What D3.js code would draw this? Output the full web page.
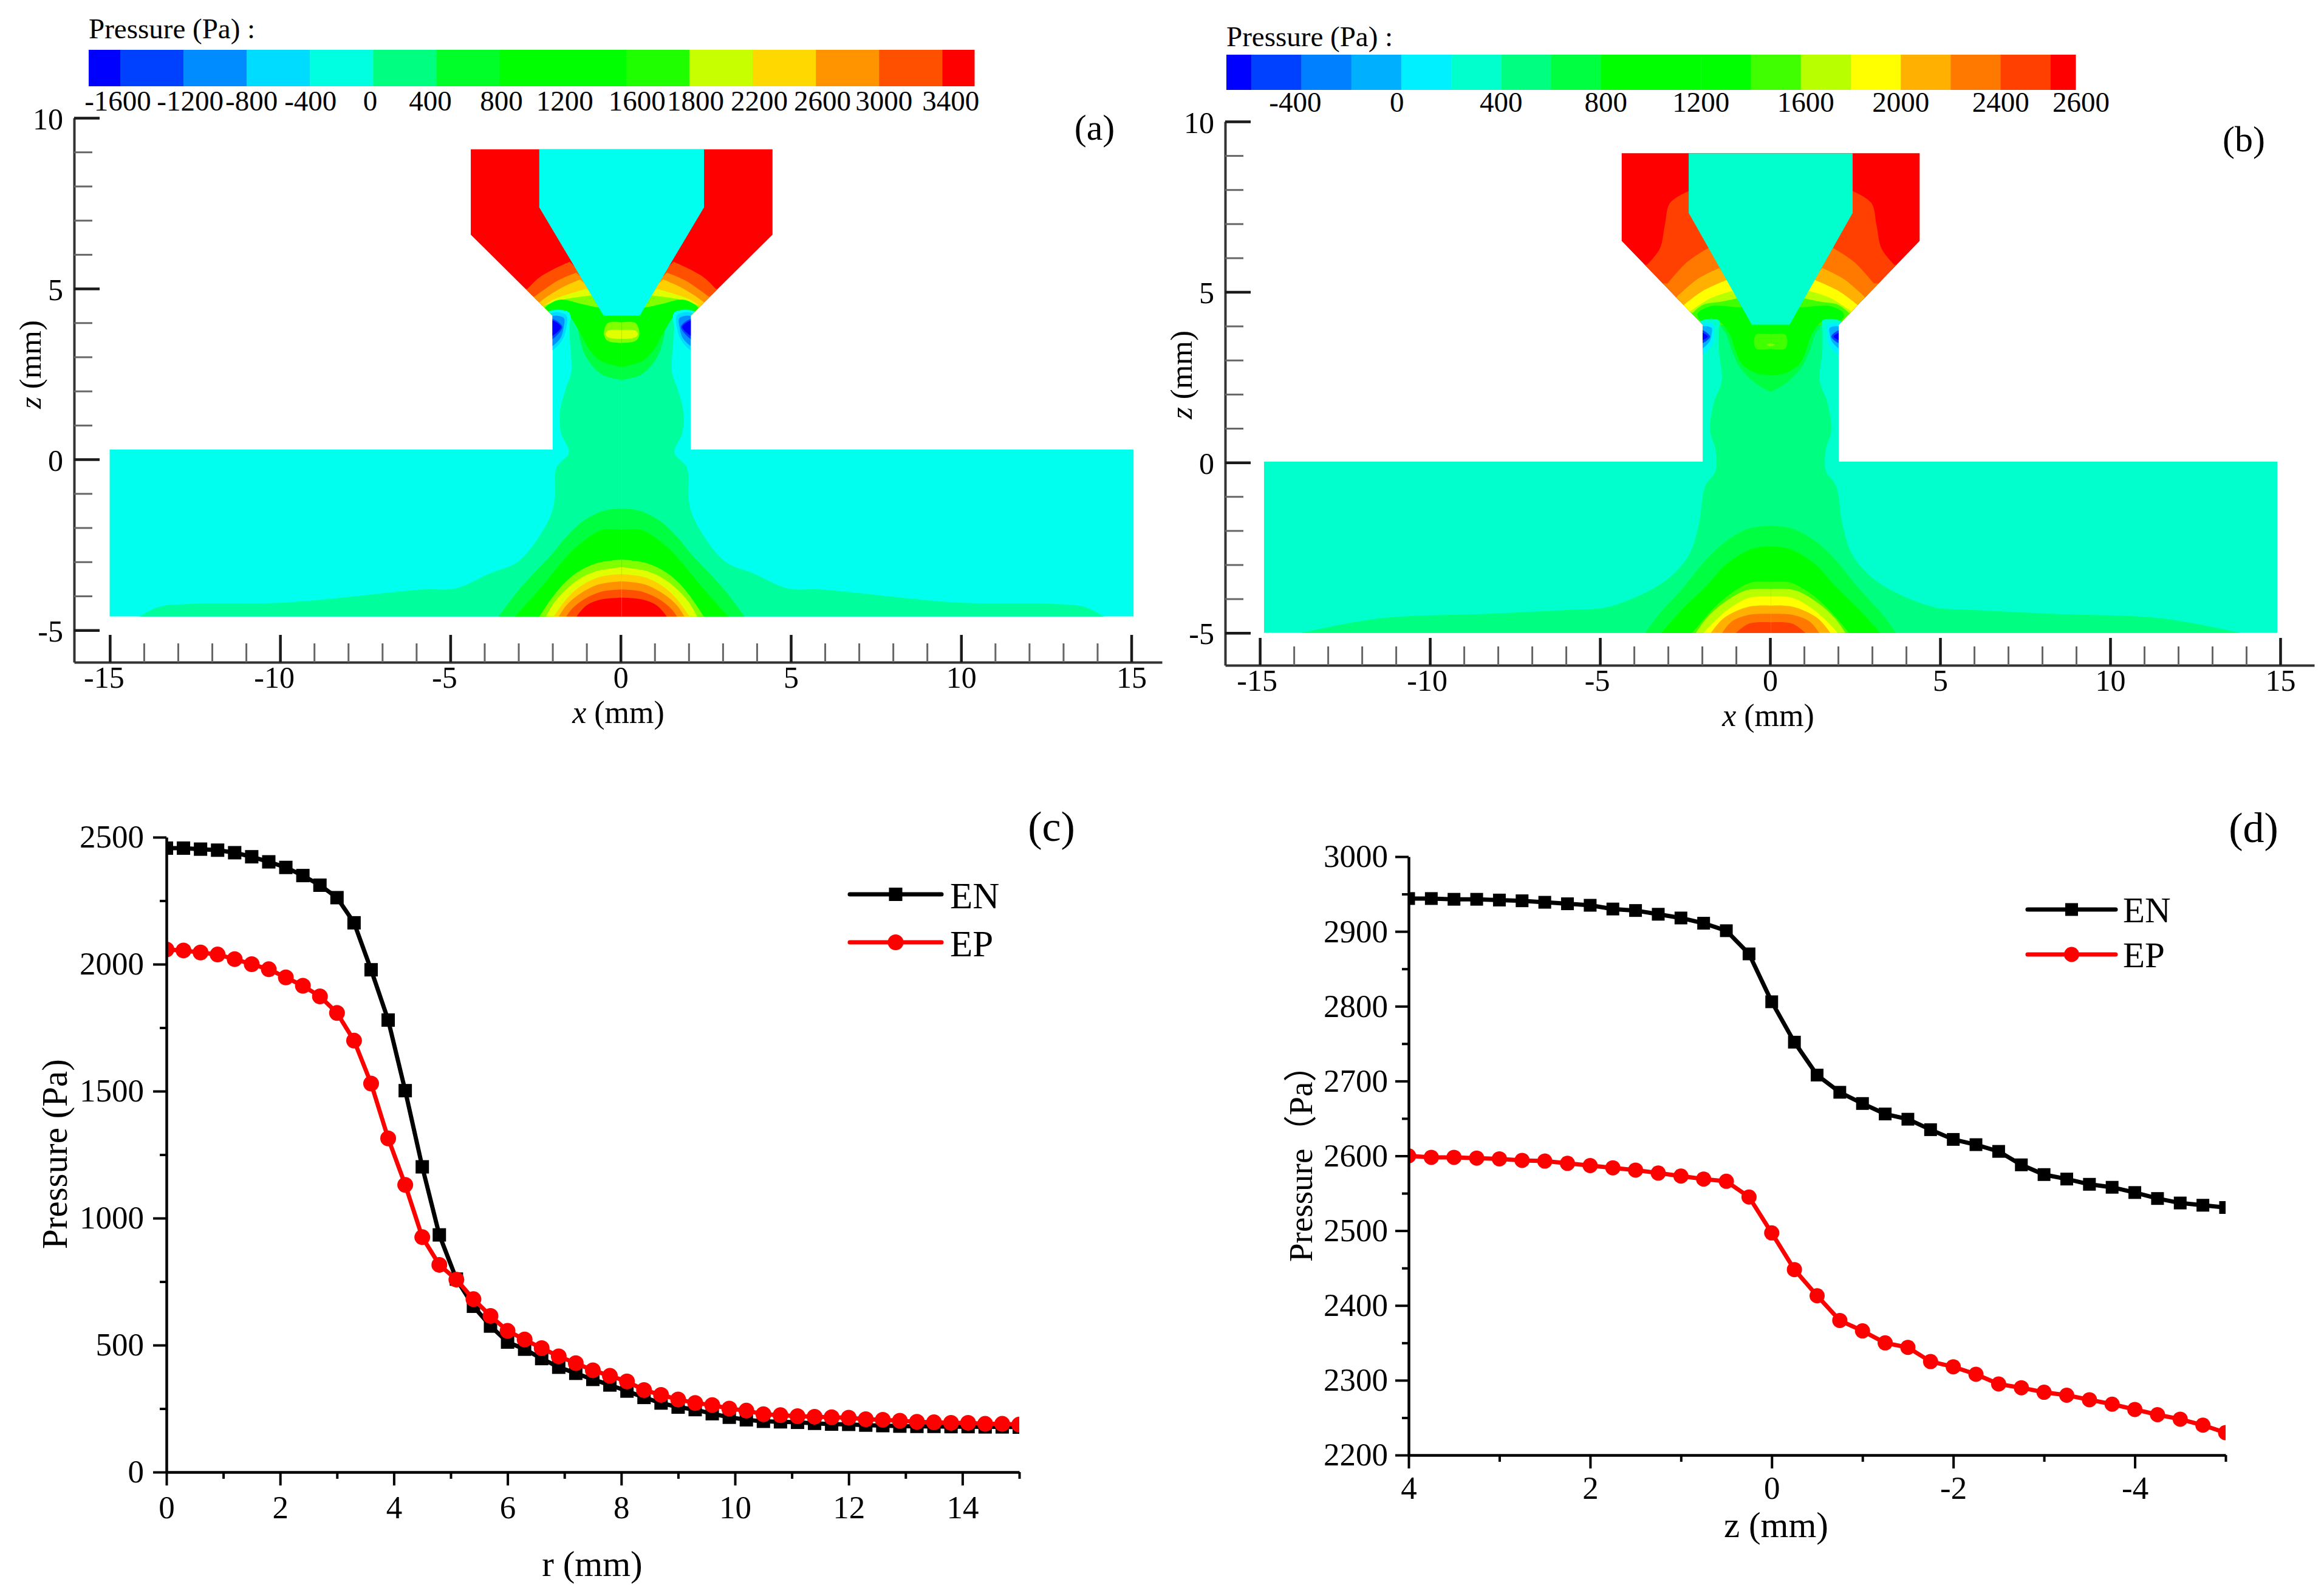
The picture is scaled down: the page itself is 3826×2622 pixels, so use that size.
<!DOCTYPE html>
<html>
<head>
<meta charset="utf-8">
<script src="https://cdn.jsdelivr.net/npm/d3@7"></script>
<style>
  body { margin: 0; background: #fff; }
  text { font-family: "Liberation Serif", "Noto Sans CJK SC", serif; fill: #000; }
</style>
</head>
<body>
<div id="chart-area"></div>
<script>
// ---------- line chart data ----------
var rValues = d3.range(0, 51).map(function (i) { return i * 0.3; });
var enRadial = [2457, 2457, 2453, 2449, 2439, 2423, 2403, 2381, 2349, 2311, 2262, 2163, 1978, 1780, 1502, 1202, 934,
    760, 653, 575, 512, 484, 447, 413, 389, 365, 343, 319, 294, 272, 256, 246, 230, 216, 206, 200, 198, 196, 192,
    189, 188, 185, 183, 181, 180, 180, 179, 179, 178, 178, 177];
var epRadial = [2058, 2054, 2046, 2038, 2020, 2000, 1980, 1948, 1915, 1873, 1808, 1699, 1530, 1314, 1131, 925, 816,
    758, 681, 615, 556, 522, 488, 456, 429, 401, 379, 357, 323, 304, 286, 272, 264, 250, 242, 228, 224, 220, 218,
    216, 214, 208, 206, 202, 198, 196, 194, 194, 190, 190, 187];

var zValues = d3.range(0, 37).map(function (i) { return 4 - i * 0.25; });
var enAxial = [2944, 2944, 2943, 2943, 2942, 2941, 2939, 2937, 2935, 2930, 2928, 2923, 2918, 2911, 2901, 2870, 2806,
    2752, 2708, 2685, 2670, 2656, 2649, 2635, 2622, 2615, 2606, 2588, 2575, 2569, 2562, 2558, 2551, 2543, 2537, 2534, 2531];
var epAxial = [2600, 2598, 2598, 2597, 2596, 2594, 2593, 2590, 2587, 2584, 2581, 2577, 2573, 2569, 2566, 2545, 2497,
    2448, 2413, 2380, 2366, 2350, 2344, 2325, 2318, 2308, 2295, 2290, 2284, 2280, 2274, 2268, 2261, 2254, 2248, 2240, 2230];

// ---------- colour bars ----------
var levelsA = [-1800, -1600, -1200, -800, -400, 0, 400, 800, 1200, 1600, 1800, 2200, 2600, 3000, 3400, 3600];
var colorsA = ["#0000ff", "#0040ff", "#008cff", "#00dcff", "#00ffe0", "#00ff80", "#00ff28", "#00ff00", "#00ff00",
    "#20ff00", "#c8ff00", "#ffd800", "#ff9400", "#ff5000", "#ff0000"];
var labelsA = [-1600, -1200, -800, -400, 0, 400, 800, 1200, 1600, 1800, 2200, 2600, 3000, 3400];

var levelsB = [-700, -600, -400, -200, 0, 200, 400, 600, 800, 1000, 1200, 1400, 1600, 1800, 2000, 2200, 2400, 2600, 2700];
var colorsB = ["#0000ff", "#0040ff", "#0080ff", "#00b0ff", "#00f0ff", "#00ffcc", "#00ff80", "#00ff40", "#00ff00",
    "#00ff00", "#00ff00", "#40ff00", "#b8ff00", "#ffff00", "#ffb000", "#ff7800", "#ff4000", "#ff0000"];
var labelsB = [-400, 0, 400, 800, 1200, 1600, 2000, 2400, 2600];

// ---------- contour outlines, right half, [x mm, z mm] ----------
var outlineA = [[0, 9.08], [4.43, 9.08], [4.43, 6.58], [2.03, 4.21], [2.03, 0.29], [15.04, 0.29], [15.04, -4.6], [0, -4.6]];
var nozzleA = [[0, 9.08], [2.42, 9.08], [2.42, 7.38], [0.53, 4.21], [0, 4.21]];
var coreA = [[1.55, 4.33], [1.52, 3.5], [1.48, 2.55], [1.63, 2.1], [1.81, 1.4], [1.78, 0.77], [1.55, 0.2], [1.92, -0.25],
    [1.96, -1.08], [2.07, -1.61], [2.59, -2.5], [3.11, -3.04], [3.85, -3.33], [4.88, -3.78], [5.83, -3.81], [9.84, -4.19],
    [12.67, -4.23], [13.6, -4.32], [14.19, -4.62]];
var bowl40A = [[0, 4.3], [1.52, 4.26], [1.33, 4.01], [1.22, 3.5], [1.04, 2.99], [0.59, 2.49], [0, 2.33]];
var wallRedA = [[0, 10], [6, 10]];
var wall50A = [[1.52, 5.79], [2, 5.57], [2.44, 5.31], [2.77, 4.99]];
var wall90A = [[1.33, 5.47], [1.85, 5.25], [2.29, 4.96], [2.55, 4.77]];
var wallD0A = [[1.22, 5.27], [1.7, 5.06], [2.14, 4.8], [2.4, 4.61]];
var wallE0A = [[1.04, 4.99], [1.55, 4.84], [2, 4.68], [2.29, 4.49]];
var wall80A = [[0.89, 4.8], [1.55, 4.71], [2, 4.61], [2.37, 4.45]];
var bowlGreenA = [[0, 4.45], [0.7, 4.45], [1.18, 4.55], [1.78, 4.68], [2.07, 4.58], [2.26, 4.42], [2.18, 4.3], [1.63, 4.31],
    [1.44, 4.07], [1.18, 3.63], [0.92, 3.18], [0.59, 2.87], [0, 2.71]];
var spot80A = [[0, 4.01], [0.41, 3.99], [0.52, 3.66], [0.41, 3.47], [0, 3.41]];
var spotE0A = [[0, 3.79], [0.41, 3.77], [0.48, 3.66], [0.37, 3.56], [0, 3.53]];
var pocketCyanA = [[1.55, 4.31], [2.18, 4.31], [2.1, 3.9], [1.55, 3.95]];
var pocketDcA = [[1.63, 4.23], [2.1, 4.26], [2.1, 3.18], [1.78, 3.44], [1.63, 3.82]];
var pocket90A = [[1.7, 4.14], [2.1, 4.17], [2.1, 3.31], [1.81, 3.53], [1.7, 3.88]];
var pocket40A = [[2.1, 4.12], [1.74, 3.88], [2.1, 3.5]];
var pocket00A = [[2.1, 4.07], [1.78, 3.88], [2.1, 3.6]];
var dome40A = [[0, -1.44], [0.52, -1.5], [1.11, -1.79], [1.63, -2.27], [2.07, -2.8], [2.96, -3.75], [3.62, -4.61]];
var dome00A = [[0, -2.06], [0.59, -2.07], [1.26, -2.5], [1.63, -2.86], [2.37, -3.75], [3.14, -4.61]];
var dome80A = [[0, -2.93], [0.74, -3.04], [1.26, -3.28], [1.63, -3.57], [2, -3.99], [2.42, -4.61]];
var domeE0A = [[0, -3.16], [0.74, -3.27], [1.26, -3.51], [1.7, -3.87], [2, -4.22], [2.22, -4.61]];
var domeD0A = [[0, -3.36], [0.67, -3.45], [1.26, -3.75], [1.63, -4.1], [2, -4.61]];
var dome90A = [[0, -3.57], [0.67, -3.66], [1.26, -3.96], [1.63, -4.28], [1.85, -4.61]];
var dome50A = [[0, -3.81], [0.59, -3.87], [1.11, -4.1], [1.48, -4.4], [1.63, -4.61]];
var domeRedA = [[0, -4.05], [0.59, -4.1], [1.04, -4.28], [1.33, -4.61]];

var outlineB = [[0, 9.07], [4.38, 9.07], [4.38, 6.5], [2, 4.04], [2, 0.03], [14.9, 0.03], [14.9, -5], [0, -5]];
var nozzleB = [[0, 9.07], [2.41, 9.07], [2.41, 7.32], [0.555, 4.04], [0, 4.04]];
var coreB = [[1.52, 4.04], [1.52, 3.28], [1.44, 2.39], [1.67, 1.75], [1.78, 0.93], [1.63, 0.42], [1.59, 0.03], [1.63, -0.28],
    [1.92, -0.69], [2.1, -1.76], [2.32, -2.54], [2.61, -3.01], [3.12, -3.49], [3.85, -3.9], [4.87, -4.26], [5.8, -4.32],
    [8.28, -4.44], [11.55, -4.58], [13.9, -5.02]];
var bowl40B = [[0, 4.2], [1.45, 4.04], [1.3, 3.75], [1.15, 3.3], [0.89, 2.77], [0.44, 2.32], [0, 2.07]];
var wallRedB = [[0, 10], [6, 10]];
var wall40B = [[2.41, 7.96], [2.96, 7.61], [3.11, 6.97], [3.26, 6.27], [3.63, 5.8]];
var wall78B = [[1.81, 6.3], [2.44, 5.89], [3.03, 5.25]];
var wallB0B = [[1.52, 5.7], [2.15, 5.38], [2.78, 4.84]];
var wallFfB = [[1.3, 5.35], [2, 5.03], [2.55, 4.62]];
var wallB8B = [[1.15, 5.03], [1.78, 4.81], [2.37, 4.43]];
var wallLimeB = [[1, 4.81], [1.48, 4.71], [2, 4.62], [2.29, 4.39]];
var bowlGreenB = [[0, 4.6], [0.89, 4.55], [1.26, 4.58], [1.78, 4.58], [2.15, 4.36], [2.07, 4.17], [1.78, 4.2], [1.48, 4.11],
    [1.2, 3.75], [1.04, 3.3], [0.85, 2.9], [0.44, 2.62], [0, 2.55]];
var spotLimeB = [[0, 3.76], [0.44, 3.74], [0.44, 3.35], [0, 3.33]];
var spot80B = [[0, 3.5], [0.12, 3.45], [0, 3.4]];
var pocketCyanB = [[1.52, 4.17], [2.07, 4.14], [2.1, 3.8], [1.55, 3.9]];
var pocketF0B = [[1.67, 4.04], [2.1, 4.04], [2.1, 3.12], [1.7, 3.47], [1.67, 3.79]];
var pocketB0B = [[1.74, 3.95], [2.1, 3.96], [2.1, 3.31], [1.81, 3.53], [1.74, 3.76]];
var pocket40B = [[2.1, 3.9], [1.78, 3.69], [2.1, 3.47]];
var pocket00B = [[2.1, 3.82], [1.85, 3.69], [2.1, 3.57]];
var dome40B = [[0, -1.85], [0.64, -1.94], [1.3, -2.3], [1.88, -2.83], [2.61, -3.72], [3.27, -4.44], [3.7, -5.02]];
var dome00B = [[0, -2.46], [0.57, -2.54], [1.3, -2.98], [1.88, -3.61], [2.61, -4.32], [3.23, -5.02]];
var domeLimeB = [[0, -3.5], [0.57, -3.52], [1.08, -3.78], [1.66, -4.26], [2.32, -5.02]];
var domeB8B = [[0, -3.71], [0.71, -3.75], [1.37, -4.11], [1.88, -4.56], [2.21, -5.02]];
var domeFfB = [[0, -3.93], [0.64, -3.97], [1.22, -4.29], [1.66, -4.67], [1.99, -5.02]];
var domeB0B = [[0, -4.2], [0.64, -4.23], [1.37, -4.56], [1.77, -5.02]];
var dome78B = [[0, -4.44], [0.64, -4.47], [1.15, -4.67], [1.44, -5.02]];
var dome40rB = [[0, -4.69], [0.64, -4.73], [1.04, -5.02]];

var width = 3826, height = 2622;
var svg = d3.select("#chart-area").append("svg")
    .attr("width", width)
    .attr("height", height)
    .style("display", "block");

// ====================
// contour panels
function drawContour(cfg) {
    var x = d3.scaleLinear().domain(cfg.xDomain).range(cfg.xRange);
    var z = d3.scaleLinear().domain(cfg.zDomain).range(cfg.zRange);
    var g = svg.append("g");

    // colour bar
    var bar = d3.scaleLinear().domain(cfg.levels).range(cfg.barRange);
    g.selectAll(".band").data(cfg.colors).enter().append("rect")
        .attr("x", function (d, i) { return bar(cfg.levels[i]); })
        .attr("y", cfg.barTop)
        .attr("width", function (d, i) { return bar(cfg.levels[i + 1]) - bar(cfg.levels[i]) + 0.5; })
        .attr("height", cfg.barHeight)
        .attr("fill", function (d) { return d; });
    g.selectAll(".barLabel").data(cfg.labels).enter().append("text")
        .attr("x", function (d) { return bar(d) + (cfg.labelShift[d] || 0); })
        .attr("y", cfg.barLabelY)
        .attr("text-anchor", "middle")
        .attr("font-size", 47)
        .text(function (d) { return String(d); });
    g.append("text").attr("x", cfg.barRange[0]).attr("y", cfg.titleY)
        .attr("font-size", 47).text("Pressure (Pa) :");

    // field, clipped to the flow domain
    var field = g.append("g").attr("transform", "translate(" + cfg.fieldShift + ",0)");
    var straight = d3.line().x(function (d) { return x(d[0]); }).y(function (d) { return z(d[1]); });
    var mirrored = cfg.outline.concat(cfg.outline.map(function (d) { return [-d[0], d[1]]; }).reverse());
    var clipId = "clip-" + cfg.name;
    g.append("clipPath").attr("id", clipId).append("path").attr("d", straight(mirrored) + "Z");
    var inner = field.append("g").attr("clip-path", "url(#" + clipId + ")");
    inner.append("path").attr("d", straight(mirrored) + "Z").attr("fill", cfg.base);

    [1, -1].forEach(function (sign) {
        var curve = d3.line()
            .x(function (d) { return x(sign * d[0]); })
            .y(function (d) { return z(d[1]); })
            .curve(d3.curveCatmullRom);
        var loop = d3.line()
            .x(function (d) { return x(sign * d[0]); })
            .y(function (d) { return z(d[1]); })
            .curve(d3.curveCatmullRomClosed);
        var at = function (px, pz) { return "L" + x(sign * px) + "," + z(pz); };
        cfg.shapes.forEach(function (s) {
            var pts = s[2], last = pts[pts.length - 1], d;
            if (s[0] == "wall") {
                d = curve(pts) + at(7, last[1]) + at(7, cfg.floor) + at(0, cfg.floor) + "Z";
            } else if (s[0] == "down") {
                d = curve(pts) + at(last[0], -6) + at(0, -6) + at(0, pts[0][1]) + "Z";
            } else if (s[0] == "bowl") {
                d = curve(pts) + "Z";
            } else {
                d = loop(pts);
            }
            inner.append("path").attr("d", d).attr("fill", s[1]);
        });
    });
    var nozzle = cfg.nozzle.concat(cfg.nozzle.map(function (d) { return [-d[0], d[1]]; }).reverse());
    inner.append("path").attr("d", straight(nozzle) + "Z").attr("fill", cfg.base);

    // axes: ticks point into the plot, labels stay outside
    function styleAxis(sel, w) {
        sel.attr("font-family", null).selectAll("line").attr("stroke", "#1a1a1a").attr("stroke-width", w);
    }
    var yMajor = g.append("g").attr("transform", "translate(" + cfg.xRange[0] + ",0)")
        .call(d3.axisRight(z).tickValues([-5, 0, 5, 10]).tickSize(42).tickSizeOuter(0).tickFormat(String));
    var yMinor = g.append("g").attr("transform", "translate(" + cfg.xRange[0] + ",0)")
        .call(d3.axisRight(z).tickValues(d3.range(-4, 10).filter(function (d) { return d % 5 != 0; })).tickSize(30).tickFormat(""));
    var xMajor = g.append("g").attr("transform", "translate(0," + cfg.zRange[0] + ")")
        .call(d3.axisTop(x).tickValues([-15, -10, -5, 0, 5, 10, 15]).tickSize(45).tickSizeOuter(0).tickFormat(String));
    var xMinor = g.append("g").attr("transform", "translate(0," + cfg.zRange[0] + ")")
        .call(d3.axisTop(x).tickValues(d3.range(-14, 15).filter(function (d) { return d % 5 != 0; })).tickSize(31).tickFormat(""));
    [yMinor, xMinor].forEach(function (a) {
        a.select(".domain").remove();
        styleAxis(a, 3);
        a.selectAll("line").attr("stroke", "#666");
    });
    [yMajor, xMajor].forEach(function (a) {
        styleAxis(a, 4.5);
        a.select(".domain").attr("stroke", "#333").attr("stroke-width", 4);
    });
    yMajor.selectAll("text").attr("x", -18).attr("dy", "0.36em").attr("text-anchor", "end").attr("font-size", 50);
    xMajor.selectAll("text").attr("y", 42)
        .attr("x", function (d) { return d < 0 ? -cfg.negTickShift : 0; })
        .attr("dy", 0).attr("font-size", 50);

    // labels
    var zLab = g.append("text")
        .attr("transform", "translate(" + cfg.zLabelX + "," + cfg.zLabelY + ") rotate(-90)")
        .attr("text-anchor", "middle").attr("font-size", 51);
    zLab.append("tspan").attr("font-style", "italic").text("z");
    zLab.append("tspan").text(" (mm)");
    var xLab = g.append("text").attr("x", cfg.xLabelX).attr("y", cfg.xLabelY)
        .attr("text-anchor", "middle").attr("font-size", 52);
    xLab.append("tspan").attr("font-style", "italic").text("x");
    xLab.append("tspan").text(" (mm)");
    g.append("text").attr("x", cfg.tagX).attr("y", cfg.tagY)
        .attr("text-anchor", "middle").attr("font-size", 60).text(cfg.tag);
}

drawContour({
    name: "a", tag: "(a)", tagX: 1802, tagY: 230,
    xDomain: [-16.05, 15.9], xRange: [122, 1913],
    zDomain: [-5.94, 10], zRange: [1090, 194],
    fieldShift: 1.7, floor: 4.2, negTickShift: 10,
    levels: levelsA, colors: colorsA, labels: labelsA,
    barRange: levelsA.map(function (d, i) { return i == 0 ? 146 : (i == levelsA.length - 1 ? 1604 : 198 + (i - 1) * 104.1); }),
    barTop: 82, barHeight: 60, barLabelY: 182, titleY: 63,
    labelShift: { "-1600": -4, "-1200": 11, "-800": 8, "-400": 1, "0": -5, "400": -10, "800": 3, "1200": 3, "1600": 18, "1800": 10, "2200": 11, "2600": 11, "3000": 8, "3400": 14 },
    outline: outlineA, nozzle: nozzleA, base: "#00ffee",
    shapes: [
        ["down", "#00ff9c", coreA],
        ["bowl", "#00ff40", bowl40A],
        ["wall", "#ff0000", wallRedA],
        ["wall", "#ff5000", wall50A],
        ["wall", "#ff9000", wall90A],
        ["wall", "#ffd000", wallD0A],
        ["wall", "#e0ff00", wallE0A],
        ["wall", "#80ff00", wall80A],
        ["bowl", "#00ff00", bowlGreenA],
        ["bowl", "#80ff00", spot80A],
        ["bowl", "#e0ff00", spotE0A],
        ["loop", "#00ffee", pocketCyanA],
        ["loop", "#00dcff", pocketDcA],
        ["loop", "#0090ff", pocket90A],
        ["loop", "#0040ff", pocket40A],
        ["loop", "#0000ff", pocket00A],
        ["down", "#00ff40", dome40A],
        ["down", "#00ff00", dome00A],
        ["down", "#80ff00", dome80A],
        ["down", "#e0ff00", domeE0A],
        ["down", "#ffd000", domeD0A],
        ["down", "#ff9000", dome90A],
        ["down", "#ff5000", dome50A],
        ["down", "#ff0000", domeRedA]
    ],
    zLabelX: 67, zLabelY: 600, xLabelX: 1018, xLabelY: 1190
});

drawContour({
    name: "b", tag: "(b)", tagX: 3694, tagY: 249,
    xDomain: [-16.02, 16.0], xRange: [2017, 3810],
    zDomain: [-5.95, 10], zRange: [1095, 200],
    fieldShift: 1, floor: 4.03, negTickShift: 5,
    levels: levelsB, colors: colorsB, labels: labelsB,
    barRange: levelsB.map(function (d) { return 2019 + (d + 700) / 3400 * 1398; }),
    barTop: 90, barHeight: 58, barLabelY: 184, titleY: 76,
    labelShift: { "-400": -10, "0": -7, "800": 8, "1600": 8, "2600": 50 },
    outline: outlineB, nozzle: nozzleB, base: "#00ffcc",
    shapes: [
        ["down", "#00ff80", coreB],
        ["bowl", "#00ff40", bowl40B],
        ["wall", "#ff0000", wallRedB],
        ["wall", "#ff4000", wall40B],
        ["wall", "#ff7800", wall78B],
        ["wall", "#ffb000", wallB0B],
        ["wall", "#ffff00", wallFfB],
        ["wall", "#b8ff00", wallB8B],
        ["wall", "#40ff00", wallLimeB],
        ["bowl", "#00ff00", bowlGreenB],
        ["bowl", "#40ff00", spotLimeB],
        ["bowl", "#80ff00", spot80B],
        ["loop", "#00ffcc", pocketCyanB],
        ["loop", "#00f0ff", pocketF0B],
        ["loop", "#00b0ff", pocketB0B],
        ["loop", "#0040ff", pocket40B],
        ["loop", "#0000ff", pocket00B],
        ["down", "#00ff40", dome40B],
        ["down", "#00ff00", dome00B],
        ["down", "#40ff00", domeLimeB],
        ["down", "#b8ff00", domeB8B],
        ["down", "#ffff00", domeFfB],
        ["down", "#ffb000", domeB0B],
        ["down", "#ff7800", dome78B],
        ["down", "#ff4000", dome40rB]
    ],
    zLabelX: 1962, zLabelY: 617, xLabelX: 2911, xLabelY: 1195
});

// ====================
// line panels
function drawLines(cfg) {
    var x = d3.scaleLinear().domain(cfg.xDomain).range(cfg.xRange);
    var y = d3.scaleLinear().domain(cfg.yDomain).range(cfg.yRange);
    var g = svg.append("g");
    var clipId = "clip-" + cfg.name;
    g.append("clipPath").attr("id", clipId).append("rect")
        .attr("x", cfg.xRange[0]).attr("y", cfg.yRange[1] - 20)
        .attr("width", cfg.xRange[1] - cfg.xRange[0]).attr("height", cfg.yRange[0] - cfg.yRange[1] + 40);

    var plot = g.append("g").attr("clip-path", "url(#" + clipId + ")");
    var line = d3.line().x(function (d) { return x(d[0]); }).y(function (d) { return y(d[1]); });
    var en = d3.zip(cfg.xs, cfg.en), ep = d3.zip(cfg.xs, cfg.ep);

    plot.append("path").attr("d", line(en)).attr("fill", "none").attr("stroke", "#000").attr("stroke-width", 7);
    plot.selectAll(".en").data(en).enter().append("rect")
        .attr("x", function (d) { return x(d[0]) - cfg.square / 2; })
        .attr("y", function (d) { return y(d[1]) - cfg.square / 2; })
        .attr("width", cfg.square).attr("height", cfg.square).attr("fill", "#000");
    plot.append("path").attr("d", line(ep)).attr("fill", "none").attr("stroke", "#ff0000").attr("stroke-width", 7);
    plot.selectAll(".ep").data(ep).enter().append("circle")
        .attr("cx", function (d) { return x(d[0]); })
        .attr("cy", function (d) { return y(d[1]); })
        .attr("r", cfg.dot).attr("fill", "#ff0000");

    // axes
    var yMajor = g.append("g").attr("transform", "translate(" + cfg.xRange[0] + ",0)")
        .call(d3.axisLeft(y).tickValues(cfg.yTicks).tickSize(22).tickSizeOuter(0).tickPadding(cfg.yPad).tickFormat(String));
    var yMinor = g.append("g").attr("transform", "translate(" + cfg.xRange[0] + ",0)")
        .call(d3.axisLeft(y).tickValues(cfg.yMinor).tickSize(11).tickFormat(""));
    var xMajor = g.append("g").attr("transform", "translate(0," + cfg.yRange[0] + ")")
        .call(d3.axisBottom(x).tickValues(cfg.xTicks).tickSize(22).tickSizeOuter(0).tickPadding(cfg.xPad).tickFormat(String));
    var xMinor = g.append("g").attr("transform", "translate(0," + cfg.yRange[0] + ")")
        .call(d3.axisBottom(x).tickValues(cfg.xMinor).tickSize(11).tickFormat(""));
    [yMinor, xMinor].forEach(function (a) { a.select(".domain").remove(); });
    [yMajor, yMinor, xMajor, xMinor].forEach(function (a) {
        a.attr("font-family", null).selectAll("line").attr("stroke", "#000").attr("stroke-width", 4);
        a.selectAll("text").attr("font-size", 53);
        a.select(".domain").attr("stroke", "#000").attr("stroke-width", 4.5);
    });

    g.append("text")
        .attr("transform", "translate(" + cfg.yLabelX + "," + cfg.yLabelY + ") rotate(-90)")
        .attr("text-anchor", "start").attr("font-size", cfg.yLabelSize).text(cfg.yLabel);
    g.append("text").attr("x", cfg.xLabelX).attr("y", cfg.xLabelY)
        .attr("text-anchor", "middle").attr("font-size", 59).text(cfg.xLabel);
    g.append("text").attr("x", cfg.tagX).attr("y", cfg.tagY)
        .attr("text-anchor", "middle").attr("font-size", 70).text(cfg.tag);

    // legend
    var lg = cfg.legend;
    [["EN", "#000", 0], ["EP", "#ff0000", 1]].forEach(function (item) {
        var ly = lg.y[item[2]];
        g.append("line").attr("x1", lg.x1).attr("x2", lg.x2).attr("y1", ly).attr("y2", ly)
            .attr("stroke", item[1]).attr("stroke-width", 7).attr("stroke-linecap", "round");
        if (item[0] == "EN") {
            g.append("rect").attr("x", (lg.x1 + lg.x2) / 2 - cfg.square / 2).attr("y", ly - cfg.square / 2)
                .attr("width", cfg.square).attr("height", cfg.square).attr("fill", item[1]);
        } else {
            g.append("circle").attr("cx", (lg.x1 + lg.x2) / 2).attr("cy", ly).attr("r", cfg.dot).attr("fill", item[1]);
        }
        g.append("text").attr("x", lg.textX).attr("y", ly + lg.dy)
            .attr("font-size", lg.size).text(item[0]);
    });
}

drawLines({
    name: "c", tag: "(c)", tagX: 1731, tagY: 1384,
    xs: rValues, en: enRadial, ep: epRadial,
    xDomain: [0, 15], xRange: [274, 1678],
    yDomain: [0, 2500], yRange: [2423, 1378],
    xTicks: d3.range(0, 15, 2), xMinor: d3.range(1, 16, 2),
    yTicks: d3.range(0, 2501, 500), yMinor: d3.range(250, 2500, 500),
    xPad: 16, yPad: 15, square: 22, dot: 13,
    yLabel: "Pressure (Pa)", yLabelX: 110, yLabelY: 2056, yLabelSize: 59,
    xLabel: "r (mm)", xLabelX: 975, xLabelY: 2594,
    legend: { x1: 1399, x2: 1550, y: [1472, 1551], textX: 1564, dy: 23, size: 61 }
});

drawLines({
    name: "d", tag: "(d)", tagX: 3710, tagY: 1386,
    xs: zValues, en: enAxial, ep: epAxial,
    xDomain: [4, -5], xRange: [2319, 3664],
    yDomain: [2200, 3000], yRange: [2395, 1410],
    xTicks: [4, 2, 0, -2, -4], xMinor: [3, 1, -1, -3, -5],
    yTicks: d3.range(2200, 3001, 100), yMinor: d3.range(2250, 3000, 100),
    xPad: 12, yPad: 12, square: 21, dot: 12.5,
    yLabel: "Pressure（Pa）", yLabelX: 2160, yLabelY: 2077, yLabelSize: 55,
    xLabel: "z (mm)", xLabelX: 2924, xLabelY: 2530,
    legend: { x1: 3338, x2: 3483, y: [1497, 1571], textX: 3495, dy: 21, size: 59 }
});
</script>
</body>
</html>
